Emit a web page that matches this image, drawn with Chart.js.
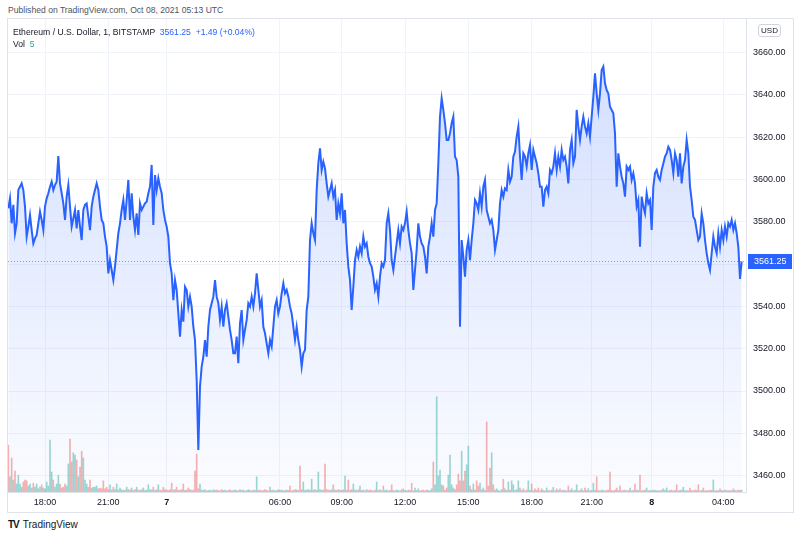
<!DOCTYPE html>
<html>
<head>
<meta charset="utf-8">
<script src="https://cdn.jsdelivr.net/npm/chart.js@4.4.0/dist/chart.umd.min.js"></script>
<style>
  body { margin: 0; background: #fff; font-family: "Liberation Sans", Arial, sans-serif; }
  #pub { position: absolute; left: 8px; top: 5px; font-size: 8.6px; color: #50535e; }
  #frame { position: absolute; left: 7px; top: 18px; width: 785px; height: 493px; border: 1px solid #e0e3eb; }
  #c { position: absolute; left: 0; top: 0; }
  #legend { position: absolute; left: 5px; top: 7px; font-size: 8.6px; color: #131722; line-height: 12px; }
  #legend .blue { color: #2962ff; }
  #legend .teal { color: #26a69a; }
  #usd { position: absolute; left: 750px; top: 5px; width: 21px; height: 11px; border: 1px solid #d1d4dc;
         border-radius: 3px; font-size: 8px; line-height: 11px; text-align: center; color: #131722; }
  #logo { position: absolute; left: 8px; top: 519px; font-size: 10px; color: #131722; }
  #logo b { letter-spacing: -1px; margin-right: 4px; }
</style>
</head>
<body>
<div id="pub">Published on TradingView.com, Oct 08, 2021 05:13 UTC</div>
<div id="frame">
  <canvas id="c" width="785" height="493"></canvas>
  <div id="legend">
    Ethereum / U.S. Dollar, 1, BITSTAMP &nbsp;<span class="blue" id="lp"></span>&nbsp; <span class="blue" id="chg"></span><br>
    Vol &nbsp;<span class="teal" id="vol"></span>
  </div>
  <div id="usd">USD</div>
</div>
<div id="logo"><b>TV</b>TradingView</div>

<script>
'use strict';

// ETH/USD 1-minute closes, Oct 6 ~16:00 to Oct 8 05:13 UTC
var prices = [
  3586.4, 3591.1, 3579.3, 3588.0, 3574.6, 3579.3, 3595.0, 3596.6, 3598.2, 3595.0,
  3587.2, 3573.0, 3577.7, 3583.2, 3576.1, 3569.8, 3572.2, 3573.8, 3579.3, 3584.8,
  3580.9, 3576.1, 3587.2, 3591.1, 3593.5, 3596.6, 3599.0, 3595.0, 3597.4, 3599.0,
  3611.1, 3598.2, 3593.5, 3588.7, 3580.9, 3591.9, 3597.4, 3587.2, 3577.7, 3581.6,
  3585.6, 3576.9, 3585.6, 3577.7, 3571.4, 3585.6, 3588.0, 3588.7, 3582.4, 3576.1,
  3587.2, 3591.9, 3595.0, 3598.2, 3595.0, 3587.2, 3580.9, 3579.3, 3573.0, 3568.3,
  3555.6, 3561.9, 3557.2, 3552.5, 3558.8, 3566.7, 3574.6, 3579.3, 3585.6, 3590.3,
  3580.9, 3590.3, 3599.8, 3580.9, 3593.5, 3582.4, 3576.1, 3584.0, 3573.8, 3588.7,
  3585.6, 3587.2, 3588.7, 3589.5, 3593.5, 3596.6, 3606.9, 3578.5, 3602.1, 3595.0,
  3600.6, 3596.6, 3593.5, 3585.6, 3580.9, 3577.7, 3573.0, 3560.4, 3555.6, 3543.0,
  3552.5, 3547.8, 3536.7, 3525.7, 3538.3, 3532.8,
  3549.3, 3547.8, 3539.9, 3544.6, 3539.9, 3530.4, 3524.1, 3505.2, 3472.1, 3502.1,
  3511.5, 3516.2, 3524.1, 3516.2, 3530.4, 3538.3, 3541.5, 3544.6, 3552.5, 3544.6,
  3541.5, 3533.6, 3539.9, 3530.4, 3538.3, 3541.5, 3535.2, 3528.9, 3524.1, 3517.8,
  3517.8, 3525.7, 3513.1, 3532.0, 3538.3, 3524.1, 3528.9, 3533.6, 3541.5, 3539.9,
  3544.6, 3539.9, 3546.2, 3555.6, 3547.8, 3539.9, 3543.0, 3530.4, 3527.3, 3522.5,
  3517.8, 3524.1, 3521.0, 3530.4, 3539.9, 3543.0, 3536.7, 3539.9, 3546.2, 3550.9,
  3546.2, 3547.8, 3544.6, 3539.9, 3536.7, 3530.4, 3524.1, 3530.4, 3524.1, 3519.4,
  3511.5, 3517.8, 3519.4, 3538.3, 3544.6, 3571.4, 3579.3, 3574.6, 3571.4, 3595.0,
  3607.7, 3614.7, 3604.5, 3608.4, 3605.3, 3598.2, 3591.9, 3595.0, 3598.2, 3591.9,
  3595.0, 3580.9, 3588.7, 3584.0, 3593.5, 3579.3, 3585.6, 3569.8, 3558.8, 3552.5,
  3538.3, 3549.3, 3561.9, 3566.7, 3563.5, 3568.3, 3565.1, 3573.0, 3568.3, 3569.8,
  3563.5,
  3560.4, 3558.8, 3554.1, 3547.8, 3550.9, 3544.6, 3554.1, 3560.4, 3558.8, 3561.9,
  3579.3, 3584.0, 3576.1, 3561.9, 3557.2, 3563.5, 3569.8, 3576.1, 3569.8, 3577.7,
  3576.1, 3579.3, 3584.8, 3576.1, 3569.8, 3565.1, 3547.8, 3557.2, 3566.7, 3579.3,
  3573.0, 3569.8, 3568.3, 3563.5, 3555.6, 3568.3, 3573.0, 3579.3, 3573.0, 3585.6,
  3588.7, 3607.7, 3629.7, 3638.4, 3632.9, 3626.6, 3618.7, 3618.7, 3621.8, 3626.6,
  3629.7, 3610.8, 3609.2, 3601.3, 3530.4, 3571.4, 3563.5, 3554.1, 3566.7, 3571.4,
  3561.9, 3571.4, 3579.3, 3590.3, 3588.7, 3585.6, 3593.5, 3587.2, 3596.6, 3599.8,
  3585.6, 3582.4, 3579.3, 3580.9, 3576.1, 3566.7, 3571.4, 3576.1, 3588.7, 3595.0,
  3591.9, 3595.8, 3595.0, 3604.5, 3599.0, 3601.3, 3610.8, 3613.2, 3620.3, 3625.0,
  3610.8, 3599.8, 3612.4, 3610.8, 3606.1, 3612.4, 3616.3, 3604.5, 3614.0, 3610.8,
  3607.7, 3602.9, 3596.6, 3596.6, 3587.2, 3595.0, 3596.6, 3593.5, 3604.5, 3602.9,
  3606.1,
  3612.4, 3604.5, 3610.8, 3606.1, 3614.0, 3609.2, 3610.8, 3606.1, 3598.2, 3614.0,
  3618.7, 3607.6, 3610.8, 3632.9, 3625.0, 3618.7, 3625.0, 3629.7, 3625.0, 3621.8,
  3626.6, 3620.3, 3629.7, 3639.2, 3650.2, 3640.7, 3632.9, 3640.7, 3651.8, 3653.4,
  3645.5, 3642.3, 3640.7, 3634.4, 3632.9, 3631.3, 3621.8, 3596.6, 3612.4, 3606.1,
  3601.3, 3598.2, 3591.9, 3606.1, 3604.5, 3606.1, 3599.8, 3602.9, 3598.2, 3587.2,
  3590.3, 3568.2, 3591.9, 3587.2, 3584.0, 3593.5, 3588.7, 3590.3, 3576.1, 3596.6,
  3603.0, 3604.5, 3601.3, 3599.8, 3604.5, 3607.6, 3610.8, 3612.4, 3615.5, 3614.0,
  3609.2, 3603.0, 3612.4, 3609.2, 3601.3, 3612.4, 3598.2, 3606.1, 3609.2, 3618.7,
  3612.4, 3596.6, 3590.3, 3582.4, 3580.9, 3576.1, 3571.4, 3573.0, 3584.0, 3579.3,
  3571.4, 3565.1, 3560.4, 3557.2, 3565.1, 3573.0, 3568.2, 3565.1, 3574.6, 3568.2,
  3576.1, 3571.4, 3577.7, 3573.0, 3579.3, 3577.7, 3580.9, 3576.1, 3579.3, 3574.6,
  3568.2, 3553.0, 3561.25
];

// volume per bar (ETH)
var volumes = [
  117, 38, 85, 30, 52, 20, 42, 20, 12, 25, 30, 28, 15, 20, 10, 22, 12, 20, 8, 12,
  18, 10, 8, 25, 15, 130, 50, 30, 12, 20, 42, 20, 10, 12, 20, 15, 70, 132, 75, 98,
  92, 80, 38, 62, 102, 85, 30, 20, 12, 30, 10, 12, 12, 15, 8, 10, 8, 28, 8, 12,
  6, 18, 5, 12, 6, 20, 5, 10, 6, 4, 5, 12, 6, 5, 10, 4, 6, 12, 5, 4,
  6, 10, 4, 5, 18, 6, 5, 12, 4, 6, 18, 5, 4, 12, 6, 5, 4, 6, 22, 5,
  6, 12, 4, 5, 6, 20, 4, 5, 10, 6, 4, 5, 52, 95, 8, 20, 5, 4, 6, 3,
  4, 5, 3, 6, 4, 5, 4, 3, 6, 4, 5, 3, 4, 6, 3, 4, 5, 4, 3, 6,
  4, 5, 3, 4, 6, 4, 3, 5, 4, 38, 4, 5, 3, 4, 6, 4, 3, 12, 4, 5,
  3, 4, 6, 4, 5, 3, 4, 5, 4, 15, 3, 4, 6, 5, 4, 65, 6, 25, 4, 5,
  6, 4, 32, 5, 6, 4, 50, 6, 4, 5, 70, 6, 5, 4, 6, 18, 5, 4, 6, 5,
  4, 6, 40, 5, 30, 4, 6, 20, 5, 4, 6, 15, 4, 5, 3, 6, 4, 5, 4, 3,
  5, 25, 4, 6, 3, 15, 4, 5, 3, 4, 18, 4, 3, 5, 4, 3, 6, 8, 4, 3,
  5, 4, 22, 3, 10, 4, 8, 3, 4, 5, 3, 5, 4, 3, 8, 75, 18, 238, 40, 55,
  18, 15, 5, 10, 42, 92, 18, 10, 6, 18, 45, 28, 102, 28, 52, 68, 115, 15, 6, 20,
  5, 28, 15, 22, 6, 10, 4, 175, 15, 60, 98, 18, 5, 8, 4, 3, 6, 32, 8, 4,
  25, 5, 28, 18, 4, 6, 28, 10, 4, 8, 3, 5, 28, 4, 20, 3, 8, 4, 10, 3,
  8, 4, 3, 10, 4, 3, 5, 12, 3, 8, 4, 8, 3, 5, 4, 3, 15, 4, 8, 3,
  4, 18, 3, 4, 8, 3, 10, 4, 8, 3, 4, 22, 5, 38, 4, 3, 5, 4, 3, 4,
  5, 50, 4, 3, 5, 10, 4, 15, 3, 4, 5, 3, 4, 10, 3, 4, 20, 5, 4, 42,
  3, 4, 5, 10, 3, 4, 3, 5, 4, 3, 4, 3, 5, 8, 4, 10, 3, 4, 5, 3,
  4, 18, 3, 4, 5, 12, 3, 4, 3, 10, 4, 3, 5, 4, 18, 3, 4, 10, 3, 4,
  3, 5, 4, 30, 3, 4, 3, 8, 4, 3, 5, 4, 3, 4, 3, 8, 4, 3, 5, 4,
  5
];

// time axis: bar index where each label sits
var xTickPos = [22, 60, 95, 163, 200, 238, 276, 314, 350, 386, 429];
var xTickLabels = ['18:00', '21:00', '7', '06:00', '09:00', '12:00', '15:00', '18:00', '21:00', '8', '04:00'];
var yTicks = [3460, 3480, 3500, 3520, 3540, 3560, 3580, 3600, 3620, 3640, 3660];
var priceChange = '+1.49 (+0.04%)';

var lastPrice = prices[prices.length - 1];
document.getElementById('lp').textContent = lastPrice.toFixed(2);
document.getElementById('chg').textContent = priceChange;
document.getElementById('vol').textContent = volumes[volumes.length - 1];

var FONT = '"Liberation Sans", Arial, sans-serif';
var UP = 'rgba(38,166,154,0.45)';
var DOWN = 'rgba(239,83,80,0.45)';

var lineData = prices.map(function(p, i) { return {x: i, y: p}; });
var volData = volumes.map(function(v, i) { return {x: i, y: v}; });
var volColors = prices.map(function(p, i) { return (i > 0 && p >= prices[i - 1]) ? UP : DOWN; });

var lastPricePlugin = {
  id: 'lastPrice',
  beforeDatasetsDraw: function(chart) {
    var ctx = chart.ctx, area = chart.chartArea;
    var y = Math.round(chart.scales.y.getPixelForValue(lastPrice)) + 0.5;
    ctx.save();
    ctx.strokeStyle = 'rgba(41,98,255,0.6)';
    ctx.lineWidth = 1;
    ctx.setLineDash([1, 2]);
    ctx.beginPath();
    ctx.moveTo(area.left, y);
    ctx.lineTo(area.right, y);
    ctx.stroke();
    ctx.restore();
  },
  afterDraw: function(chart) {
    var ctx = chart.ctx, area = chart.chartArea;
    var y = Math.round(chart.scales.y.getPixelForValue(lastPrice));
    ctx.save();
    ctx.fillStyle = '#2962ff';
    ctx.fillRect(area.right + 2, y - 7, 44, 15);
    ctx.fillStyle = '#fff';
    ctx.font = '9px ' + FONT;
    ctx.textBaseline = 'middle';
    ctx.textAlign = 'left';
    ctx.fillText(lastPrice.toFixed(2), area.right + 8, y + 0.5);
    ctx.restore();
  }
};

var ctx = document.getElementById('c');
var chart = new Chart(ctx, {
  type: 'line',
  data: {
    datasets: [
      {
        type: 'line',
        data: lineData,
        yAxisID: 'y',
        borderColor: '#2962ff',
        borderWidth: 2,
        pointRadius: 0,
        tension: 0,
        fill: 'start',
        backgroundColor: function(c) {
          var area = c.chart.chartArea;
          if (!area) return 'rgba(41,98,255,0.1)';
          var g = c.chart.ctx.createLinearGradient(0, area.top, 0, area.bottom);
          g.addColorStop(0, 'rgba(41,98,255,0.22)');
          g.addColorStop(1, 'rgba(41,98,255,0.02)');
          return g;
        },
        order: 1
      },
      {
        type: 'bar',
        data: volData,
        yAxisID: 'yv',
        backgroundColor: volColors,
        barThickness: 1,
        order: 2
      }
    ]
  },
  options: {
    responsive: false,
    animation: false,
    layout: { padding: 0 },
    plugins: { legend: { display: false }, tooltip: { enabled: false } },
    scales: {
      x: {
        type: 'linear',
        offset: false,
        min: -0.2,
        max: 442.6,
        afterBuildTicks: function(axis) {
          axis.ticks = xTickPos.map(function(v) { return {value: v}; });
        },
        afterFit: function(axis) {
          axis.height = 20;
          axis.paddingLeft = 0;
          axis.paddingRight = 0;
        },
        grid: { color: '#f0f3fa', drawTicks: false, offset: false },
        border: { color: '#e0e3eb' },
        ticks: {
          autoSkip: false,
          maxRotation: 0,
          padding: 5,
          color: '#131722',
          font: function(c) {
            var lbl = c.tick ? xTickLabels[xTickPos.indexOf(c.tick.value)] : '';
            return { family: FONT, size: 9, weight: (lbl && lbl.indexOf(':') < 0) ? 'bold' : 'normal' };
          },
          callback: function(v) { return xTickLabels[xTickPos.indexOf(v)]; }
        }
      },
      y: {
        type: 'linear',
        position: 'right',
        min: 3452.25,
        max: 3675.9,
        afterBuildTicks: function(axis) {
          axis.ticks = yTicks.map(function(v) { return {value: v}; });
        },
        afterFit: function(axis) {
          axis.width = 47;
          axis.paddingTop = 0;
          axis.paddingBottom = 0;
        },
        grid: { color: '#f0f3fa', drawTicks: false },
        border: { color: '#e0e3eb' },
        ticks: {
          padding: 7,
          color: '#131722',
          font: { family: FONT, size: 9 },
          callback: function(v) { return Number(v).toFixed(2); }
        }
      },
      yv: {
        type: 'linear',
        display: false,
        min: 0,
        max: 1182
      }
    }
  },
  plugins: [lastPricePlugin]
});
</script>
</body>
</html>
